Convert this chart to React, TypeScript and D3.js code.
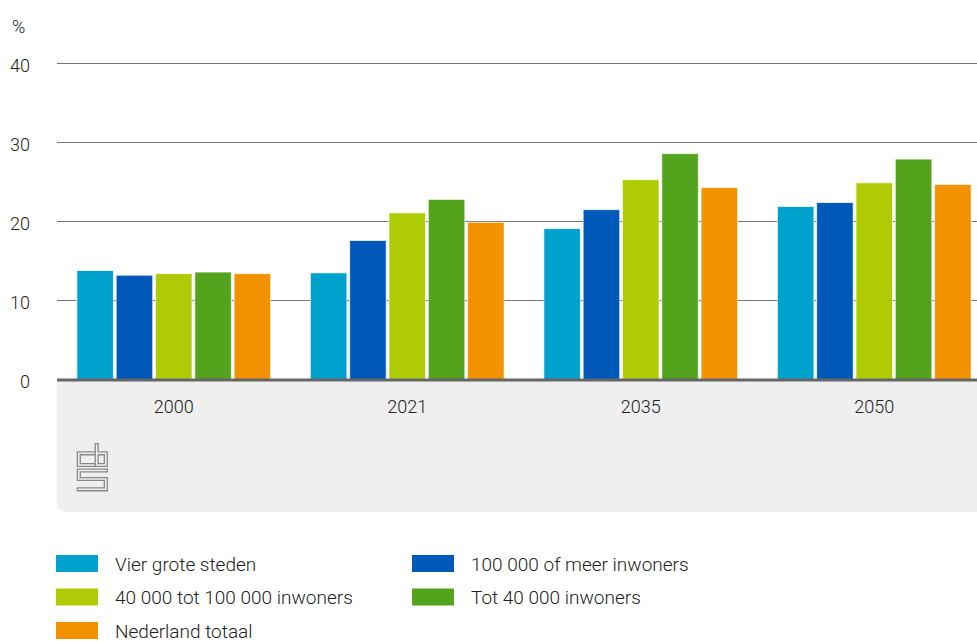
import { useEffect } from "react";
import * as d3 from "d3";

const years = ["2000", "2021", "2035", "2050"];
const series = [
  "Vier grote steden",
  "100 000 of meer inwoners",
  "40 000 tot 100 000 inwoners",
  "Tot 40 000 inwoners",
  "Nederland totaal",
];
const colors = ["#00a1cd", "#0058b8", "#afcb05", "#53a31d", "#f39200"];
const vierGroteSteden = [13.8, 13.5, 19.1, 21.9];
const honderdDuizendPlus = [13.2, 17.6, 21.5, 22.4];
const veertigTotHonderd = [13.4, 21.1, 25.3, 24.9];
const totVeertig = [13.6, 22.8, 28.6, 27.9];
const nederland = [13.4, 19.9, 24.3, 24.7];
const yTicks = [0, 10, 20, 30, 40];

const values = [vierGroteSteden, honderdDuizendPlus, veertigTotHonderd, totVeertig, nederland];

const W = 977;
const H = 641;
const left = 57;
const font = "Roboto, 'Noto Sans', sans-serif";

export default function App() {
  useEffect(() => {
    document.body.style.margin = "0";
  }, []);

  const y = d3.scaleLinear().domain([0, 40]).range([379.5, 63.5]);
  const x0 = d3.scaleBand().domain(years).range([left, 991]).paddingInner(0.17).paddingOuter(0.085);
  const x1 = d3.scaleBand().domain(series).range([0, x0.bandwidth()]).paddingInner(0.07);

  const logo = [
    "M96.7,453.3 H78.8 V465 H96.7",
    "M96.7,445 V465 H105.8 V453.3 H96.7",
    "M105.8,470.5 H78.8 V479 H105.8 V489.3 H78.8",
  ];

  return (
    <svg width={W} height={H} style={{ position: "absolute", left: 0, top: 0, fontFamily: font, fontWeight: 300 }}>
      <rect x={0} y={0} width={W} height={H} fill="#fff" />
      {/* grey footer panel */}
      <path d={`M${left},380 H${W} V512 H${left + 10} Q${left},512 ${left},502 Z`} fill="#efefef" />
      <text x={12} y={33} fontSize={18} fill="#222">%</text>
      {yTicks.map((t) => (
        <g key={t}>
          {t > 0 && <line x1={left} x2={W} y1={y(t)} y2={y(t)} stroke="#777" strokeWidth={1} />}
          <text x={30} y={y(t) + 8.5} fontSize={18} fill="#222" textAnchor="end">{t}</text>
        </g>
      ))}
      {years.map((yr, i) => (
        <g key={yr} transform={`translate(${x0(yr)},0)`}>
          {series.map((s, j) => (
            <rect
              key={s}
              x={x1(s)}
              y={y(values[j][i])}
              width={x1.bandwidth()}
              height={y(0) - y(values[j][i])}
              fill={colors[j]}
              stroke="#fff"
              strokeOpacity={0.7}
              strokeWidth={1}
            />
          ))}
          <text x={x0.bandwidth() / 2} y={412.5} fontSize={18} fill="#222" textAnchor="middle">{yr}</text>
        </g>
      ))}
      <line x1={left} x2={W} y1={380} y2={380} stroke="#666" strokeWidth={3} />
      {logo.map((d, i) => (
        <g key={i} fill="none">
          <path d={d} stroke="#888" strokeWidth={4.2} strokeLinecap="square" />
          <path d={d} stroke="#efefef" strokeWidth={1.6} strokeLinecap="square" />
        </g>
      ))}
      {series.map((s, j) => {
        const col = j % 2;
        const row = Math.floor(j / 2);
        const lx = col === 0 ? 56 : 412;
        const ly = 555 + row * 33.5;
        return (
          <g key={s}>
            <rect x={lx} y={ly} width={42} height={17} fill={colors[j]} />
            <text x={lx + 59} y={ly + 15.5} fontSize={19} fill="#222">{s}</text>
          </g>
        );
      })}
    </svg>
  );
}
